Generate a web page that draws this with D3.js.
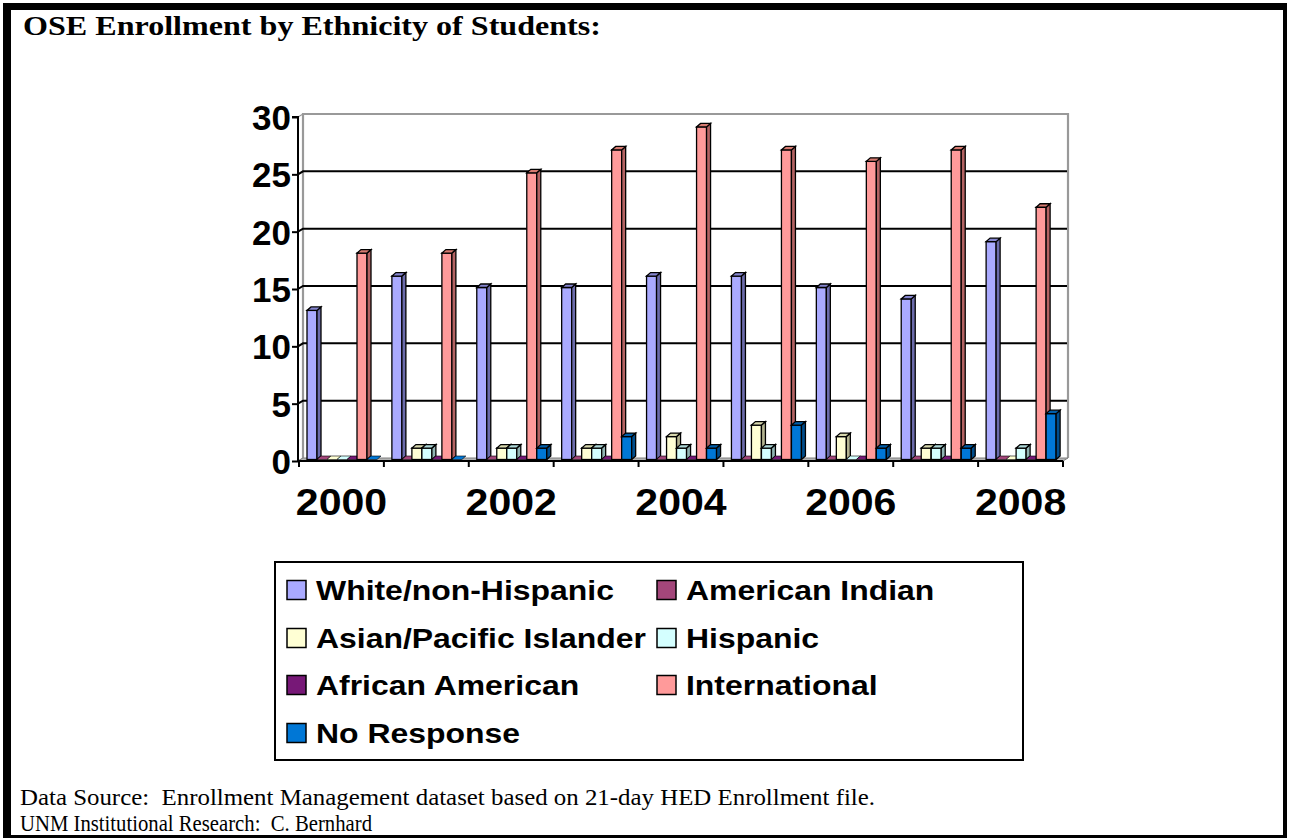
<!DOCTYPE html>
<html>
<head>
<meta charset="utf-8">
<script src="https://cdn.jsdelivr.net/npm/d3@7"></script>
<style>
  html, body { margin: 0; padding: 0; background: #ffffff; }
  svg { display: block; }
</style>
</head>
<body>
<svg id="chart" width="1289" height="840"></svg>
<script>
// Enrollment counts by academic year
const years = ["2000", "2001", "2002", "2003", "2004", "2005", "2006", "2007", "2008"];
const seriesNames = ["White/non-Hispanic", "American Indian", "Asian/Pacific Islander", "Hispanic",
                     "African American", "International", "No Response"];
const white           = [13, 16, 15, 15, 16, 16, 15, 14, 19];
const americanIndian  = [0, 0, 0, 0, 0, 0, 0, 0, 0];
const asianPacific    = [0, 1, 1, 1, 2, 3, 2, 1, 0];
const hispanic        = [0, 1, 1, 1, 1, 1, 0, 1, 1];
const africanAmerican = [0, 0, 0, 0, 0, 0, 0, 0, 0];
const international   = [18, 18, 25, 27, 29, 27, 26, 27, 22];
const noResponse      = [0, 0, 1, 2, 1, 3, 1, 1, 4];
const yTicks = [0, 5, 10, 15, 20, 25, 30];
const xLabels = ["2000", "2002", "2004", "2006", "2008"];

const seriesValues = [white, americanIndian, asianPacific, hispanic, africanAmerican, international, noResponse];

// face colours: front, top, side
const palette = [
  { front: "#aaaaff", top: "#8585cf", side: "#6b6bab" },
  { front: "#a3467a", top: "#833862", side: "#6b2d50" },
  { front: "#ffffd4", top: "#d8d8ae", side: "#b3b390" },
  { front: "#d4ffff", top: "#aed8d8", side: "#90b3b3" },
  { front: "#771877", top: "#5e135e", side: "#4d0f4d" },
  { front: "#ff9a9a", top: "#d67a70", side: "#b36262" },
  { front: "#0077d6", top: "#005fab", side: "#004d8c" }
];

const svg = d3.select("#chart");
const STRETCH = 1.14;

function stretchText(sel, factor) {
  sel.each(function () {
    const len = this.getComputedTextLength();
    d3.select(this).attr("textLength", len * factor).attr("lengthAdjust", "spacingAndGlyphs");
  });
}

// page frame
svg.append("rect").attr("x", 3).attr("y", 3).attr("width", 1284).attr("height", 835).attr("fill", "#000");
svg.append("rect").attr("x", 11).attr("y", 10).attr("width", 1272).attr("height", 825).attr("fill", "#fff");

// title
svg.append("text")
  .attr("x", 23).attr("y", 35)
  .attr("font-family", "'Liberation Serif', 'Times New Roman', serif")
  .attr("font-weight", "bold").attr("font-size", 27)
  .attr("textLength", 578).attr("lengthAdjust", "spacingAndGlyphs")
  .text("OSE Enrollment by Ethnicity of Students:");

// scales (front plane of the plot)
const y = d3.scaleLinear().domain([0, 30]).range([461, 117]);
const x = d3.scaleBand().domain(years).range([299, 1063]);
const xs = d3.scaleBand().domain(d3.range(seriesNames.length)).range([8, 78]);

const WALL_DX = 5, WALL_DY = -3;   // back wall offset
const BAR_DY = -1.5;               // bar front plane offset
const DEPTH_DX = 4, DEPTH_DY = -3.5; // bar depth
const x0 = 298, x1 = 1063;

const plot = svg.append("g");

// side wall
plot.append("path")
  .attr("d", `M${x0},${y(30)} L${x0 + WALL_DX},${y(30) + WALL_DY} L${x0 + WALL_DX},${y(0) + WALL_DY} L${x0},${y(0)} Z`)
  .attr("fill", "#fff").attr("stroke", "#999").attr("stroke-width", 1.2);

// back wall
plot.append("rect")
  .attr("x", x0 + WALL_DX).attr("y", y(30) + WALL_DY)
  .attr("width", x1 - x0).attr("height", y(0) - y(30))
  .attr("fill", "#fff");
plot.append("path")
  .attr("d", `M${x0 + WALL_DX},${y(0) + WALL_DY} L${x0 + WALL_DX},${y(30) + WALL_DY} L${x1 + WALL_DX},${y(30) + WALL_DY} L${x1 + WALL_DX},${y(0) + WALL_DY}`)
  .attr("fill", "none").attr("stroke", "#999").attr("stroke-width", 2.2);

// gridlines on back and side walls
const gridVals = yTicks.filter(v => v > 0 && v < 30);
plot.selectAll(".grid").data(gridVals).enter().append("path")
  .attr("d", v => `M${x0},${y(v)} L${x0 + WALL_DX},${y(v) + WALL_DY} L${x1 + WALL_DX - 1},${y(v) + WALL_DY}`)
  .attr("fill", "none").attr("stroke", "#000").attr("stroke-width", 2);

// floor
plot.append("path")
  .attr("d", `M${x0},${y(0)} L${x1},${y(0)} L${x1 + WALL_DX},${y(0) + WALL_DY} L${x0 + WALL_DX},${y(0) + WALL_DY} Z`)
  .attr("fill", "#b3b3b3").attr("stroke", "#808080").attr("stroke-width", 1);

// bars
const bars = plot.append("g").attr("stroke", "#000").attr("stroke-width", 1.3).attr("stroke-linejoin", "miter");
years.forEach((yr, gi) => {
  seriesValues.forEach((vals, si) => {
    const v = vals[gi];
    const bx = x(yr) + xs(si);
    const bw = xs.bandwidth();
    const yb = y(0) + BAR_DY;
    const yt = y(v) + BAR_DY;
    const c = palette[si];
    const g = bars.append("g");
    if (v > 0) {
      g.append("rect").attr("x", bx).attr("y", yt).attr("width", bw).attr("height", yb - yt).attr("fill", c.front);
      g.append("path")
        .attr("d", `M${bx + bw},${yt} L${bx + bw + DEPTH_DX},${yt + DEPTH_DY} L${bx + bw + DEPTH_DX},${yb + DEPTH_DY} L${bx + bw},${yb} Z`)
        .attr("fill", c.side);
    }
    g.append("path")
      .attr("d", `M${bx},${yt} L${bx + bw},${yt} L${bx + bw + DEPTH_DX},${yt + DEPTH_DY} L${bx + DEPTH_DX},${yt + DEPTH_DY} Z`)
      .attr("fill", v > 0 ? c.top : c.front)
      .attr("stroke-width", v > 0 ? 1.3 : 0.6);
  });
});

// y axis
const yAxis = d3.axisLeft(y).tickValues(yTicks).tickSize(6).tickPadding(1).tickFormat(d3.format("d"));
const yg = svg.append("g").attr("transform", `translate(${x0},0)`).call(yAxis);
yg.select(".domain").attr("stroke", "#000").attr("stroke-width", 2).attr("d", `M-6,${y(30)}H0V${y(0)}`);
yg.selectAll(".tick line").attr("stroke", "#000").attr("stroke-width", 2);
yg.selectAll(".tick text")
  .attr("font-family", "'Liberation Sans', Arial, sans-serif")
  .attr("font-weight", "bold").attr("font-size", 35).attr("fill", "#000")
  .attr("dy", "0.36em");

// x axis: line and ticks at category boundaries
const xg = svg.append("g");
xg.append("line").attr("x1", x0).attr("x2", x1).attr("y1", y(0)).attr("y2", y(0))
  .attr("stroke", "#000").attr("stroke-width", 2);
const bounds = years.map(d => x(d)).concat([x(years[years.length - 1]) + x.bandwidth()]);
xg.selectAll(".btick").data(bounds).enter().append("line")
  .attr("x1", d => d).attr("x2", d => d).attr("y1", y(0)).attr("y2", y(0) + 6)
  .attr("stroke", "#000").attr("stroke-width", 2);

const xAxis = d3.axisBottom(x).tickValues(xLabels).tickSize(0).tickPadding(28);
const xl = svg.append("g").attr("transform", `translate(0,${y(0)})`).call(xAxis);
xl.select(".domain").remove();
xl.selectAll(".tick text")
  .attr("font-family", "'Liberation Sans', Arial, sans-serif")
  .attr("font-weight", "bold").attr("font-size", 36).attr("fill", "#000");
stretchText(xl.selectAll(".tick text"), STRETCH);

// legend
const legend = svg.append("g");
legend.append("rect").attr("x", 275).attr("y", 562).attr("width", 748).attr("height", 198)
  .attr("fill", "#fff").attr("stroke", "#000").attr("stroke-width", 2);
const colX = [287, 657];
const rowY = [590, 638, 685, 733];
seriesNames.forEach((name, i) => {
  const cx = colX[i % 2], cy = rowY[Math.floor(i / 2)];
  legend.append("rect").attr("x", cx).attr("y", cy - 9.5).attr("width", 19).attr("height", 19)
    .attr("fill", palette[i].front).attr("stroke", "#000").attr("stroke-width", 1.5);
  legend.append("text").attr("class", "ltext")
    .attr("x", cx + 29).attr("y", cy + 10)
    .attr("font-family", "'Liberation Sans', Arial, sans-serif")
    .attr("font-weight", "bold").attr("font-size", 28).attr("fill", "#000")
    .text(name);
});
stretchText(legend.selectAll(".ltext"), STRETCH);

// source notes
const notes = [
  { text: "Data Source:  Enrollment Management dataset based on 21-day HED Enrollment file.", y: 805, len: 855 },
  { text: "UNM Institutional Research:  C. Bernhard", y: 831, len: 352 }
];
svg.selectAll(".note").data(notes).enter().append("text")
  .attr("x", 20).attr("y", d => d.y)
  .attr("font-family", "'Liberation Serif', 'Times New Roman', serif")
  .attr("font-size", 23).attr("fill", "#000")
  .attr("textLength", d => d.len).attr("lengthAdjust", "spacingAndGlyphs")
  .style("white-space", "pre")
  .text(d => d.text);
</script>
</body>
</html>
